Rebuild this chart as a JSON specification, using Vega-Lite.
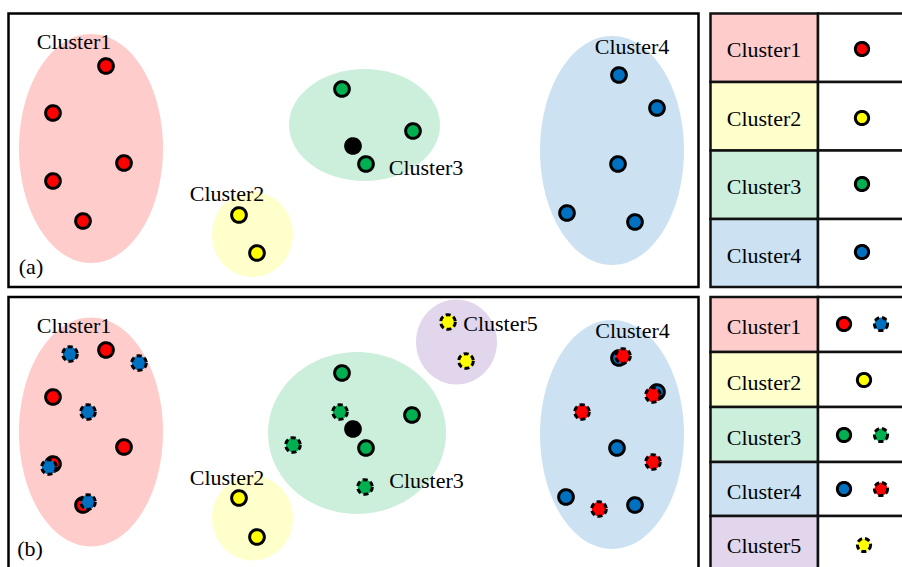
{
  "$schema": "https://vega.github.io/schema/vega-lite/v6.json",
  "width": 902,
  "height": 567,
  "padding": 0,
  "autosize": {"type": "none"},
  "background": "white",
  "config": {"view": {"stroke": null}},
  "resolve": {"scale": {"fill": "independent", "shape": "independent", "size": "independent"}},
  "datasets": {
    "regions": [
      {"panel": "a", "cluster": "Cluster1", "outline": "tall", "cx": 91, "cy": 148.5},
      {"panel": "a", "cluster": "Cluster2", "outline": "round", "cx": 252.5, "cy": 234.5},
      {"panel": "a", "cluster": "Cluster3", "outline": "wide", "cx": 364.5, "cy": 125},
      {"panel": "a", "cluster": "Cluster4", "outline": "tall", "cx": 612, "cy": 150.5},
      {"panel": "b", "cluster": "Cluster1", "outline": "tall", "cx": 91, "cy": 432},
      {"panel": "b", "cluster": "Cluster2", "outline": "round", "cx": 252.5, "cy": 518},
      {"panel": "b", "cluster": "Cluster3", "outline": "large", "cx": 357, "cy": 433},
      {"panel": "b", "cluster": "Cluster5", "outline": "round", "cx": 456.5, "cy": 342},
      {"panel": "b", "cluster": "Cluster4", "outline": "tall", "cx": 612, "cy": 434.5}
    ],
    "frames": [
      {"panel": "a", "x1": 8.5, "y1": 13.5, "x2": 698.5, "y2": 287},
      {"panel": "b", "x1": 8.5, "y1": 297, "x2": 698.5, "y2": 600}
    ],
    "cells": [
      {"panel": "a", "cell": "Cluster1", "x1": 710.5, "x2": 818, "y1": 13.5, "y2": 82},
      {"panel": "a", "cell": "Cluster2", "x1": 710.5, "x2": 818, "y1": 82, "y2": 150.5},
      {"panel": "a", "cell": "Cluster3", "x1": 710.5, "x2": 818, "y1": 150.5, "y2": 219},
      {"panel": "a", "cell": "Cluster4", "x1": 710.5, "x2": 818, "y1": 219, "y2": 287},
      {"panel": "a", "cell": "none", "x1": 818, "x2": 940, "y1": 13.5, "y2": 82},
      {"panel": "a", "cell": "none", "x1": 818, "x2": 940, "y1": 82, "y2": 150.5},
      {"panel": "a", "cell": "none", "x1": 818, "x2": 940, "y1": 150.5, "y2": 219},
      {"panel": "a", "cell": "none", "x1": 818, "x2": 940, "y1": 219, "y2": 287},
      {"panel": "b", "cell": "Cluster1", "x1": 710.5, "x2": 818, "y1": 297, "y2": 352},
      {"panel": "b", "cell": "Cluster2", "x1": 710.5, "x2": 818, "y1": 352, "y2": 407},
      {"panel": "b", "cell": "Cluster3", "x1": 710.5, "x2": 818, "y1": 407, "y2": 462},
      {"panel": "b", "cell": "Cluster4", "x1": 710.5, "x2": 818, "y1": 462, "y2": 516},
      {"panel": "b", "cell": "Cluster5", "x1": 710.5, "x2": 818, "y1": 516, "y2": 600},
      {"panel": "b", "cell": "none", "x1": 818, "x2": 940, "y1": 297, "y2": 352},
      {"panel": "b", "cell": "none", "x1": 818, "x2": 940, "y1": 352, "y2": 407},
      {"panel": "b", "cell": "none", "x1": 818, "x2": 940, "y1": 407, "y2": 462},
      {"panel": "b", "cell": "none", "x1": 818, "x2": 940, "y1": 462, "y2": 516},
      {"panel": "b", "cell": "none", "x1": 818, "x2": 940, "y1": 516, "y2": 600}
    ],
    "points": [
      {"role": "plot", "color": "black", "style": "solid", "x": 353, "y": 146},
      {"role": "plot", "color": "red", "style": "solid", "x": 106, "y": 66},
      {"role": "plot", "color": "red", "style": "solid", "x": 53, "y": 113},
      {"role": "plot", "color": "red", "style": "solid", "x": 124, "y": 163},
      {"role": "plot", "color": "red", "style": "solid", "x": 53, "y": 181},
      {"role": "plot", "color": "red", "style": "solid", "x": 83, "y": 221},
      {"role": "plot", "color": "yellow", "style": "solid", "x": 239, "y": 215},
      {"role": "plot", "color": "yellow", "style": "solid", "x": 257, "y": 253},
      {"role": "plot", "color": "green", "style": "solid", "x": 342, "y": 89},
      {"role": "plot", "color": "green", "style": "solid", "x": 413, "y": 131},
      {"role": "plot", "color": "green", "style": "solid", "x": 366, "y": 164},
      {"role": "plot", "color": "blue", "style": "solid", "x": 619, "y": 75},
      {"role": "plot", "color": "blue", "style": "solid", "x": 657, "y": 108},
      {"role": "plot", "color": "blue", "style": "solid", "x": 618, "y": 164},
      {"role": "plot", "color": "blue", "style": "solid", "x": 567, "y": 213},
      {"role": "plot", "color": "blue", "style": "solid", "x": 635, "y": 222},
      {"role": "plot", "color": "black", "style": "solid", "x": 353, "y": 429},
      {"role": "plot", "color": "red", "style": "solid", "x": 106, "y": 350},
      {"role": "plot", "color": "red", "style": "solid", "x": 53, "y": 397},
      {"role": "plot", "color": "red", "style": "solid", "x": 124, "y": 447},
      {"role": "plot", "color": "red", "style": "solid", "x": 53, "y": 464},
      {"role": "plot", "color": "red", "style": "solid", "x": 83, "y": 505},
      {"role": "plot", "color": "yellow", "style": "solid", "x": 239, "y": 498},
      {"role": "plot", "color": "yellow", "style": "solid", "x": 257, "y": 537},
      {"role": "plot", "color": "green", "style": "solid", "x": 342, "y": 373},
      {"role": "plot", "color": "green", "style": "solid", "x": 412, "y": 415},
      {"role": "plot", "color": "green", "style": "solid", "x": 366, "y": 448},
      {"role": "plot", "color": "blue", "style": "solid", "x": 619, "y": 358},
      {"role": "plot", "color": "blue", "style": "solid", "x": 657, "y": 392},
      {"role": "plot", "color": "blue", "style": "solid", "x": 617, "y": 448},
      {"role": "plot", "color": "blue", "style": "solid", "x": 566, "y": 497},
      {"role": "plot", "color": "blue", "style": "solid", "x": 635, "y": 505},
      {"role": "plot", "color": "blue", "style": "dashed", "x": 70, "y": 354},
      {"role": "plot", "color": "blue", "style": "dashed", "x": 139, "y": 363},
      {"role": "plot", "color": "blue", "style": "dashed", "x": 88, "y": 412},
      {"role": "plot", "color": "blue", "style": "dashed", "x": 49, "y": 467},
      {"role": "plot", "color": "blue", "style": "dashed", "x": 88, "y": 502},
      {"role": "plot", "color": "green", "style": "dashed", "x": 340, "y": 412},
      {"role": "plot", "color": "green", "style": "dashed", "x": 293, "y": 445},
      {"role": "plot", "color": "green", "style": "dashed", "x": 365, "y": 487},
      {"role": "plot", "color": "yellow", "style": "dashed", "x": 448, "y": 322},
      {"role": "plot", "color": "yellow", "style": "dashed", "x": 466, "y": 361},
      {"role": "plot", "color": "red", "style": "dashed", "x": 623, "y": 356},
      {"role": "plot", "color": "red", "style": "dashed", "x": 653, "y": 395},
      {"role": "plot", "color": "red", "style": "dashed", "x": 582, "y": 412},
      {"role": "plot", "color": "red", "style": "dashed", "x": 653, "y": 462},
      {"role": "plot", "color": "red", "style": "dashed", "x": 599, "y": 509},
      {"role": "legend", "color": "red", "style": "solid", "x": 862, "y": 49},
      {"role": "legend", "color": "yellow", "style": "solid", "x": 862, "y": 118},
      {"role": "legend", "color": "green", "style": "solid", "x": 862, "y": 184},
      {"role": "legend", "color": "blue", "style": "solid", "x": 862, "y": 252},
      {"role": "legend", "color": "red", "style": "solid", "x": 844, "y": 324},
      {"role": "legend", "color": "blue", "style": "dashed", "x": 881, "y": 324},
      {"role": "legend", "color": "yellow", "style": "solid", "x": 864, "y": 380},
      {"role": "legend", "color": "green", "style": "solid", "x": 844, "y": 435},
      {"role": "legend", "color": "green", "style": "dashed", "x": 881, "y": 435},
      {"role": "legend", "color": "blue", "style": "solid", "x": 844, "y": 489},
      {"role": "legend", "color": "red", "style": "dashed", "x": 881, "y": 489},
      {"role": "legend", "color": "yellow", "style": "dashed", "x": 864, "y": 545}
    ],
    "labels": [
      {"label": "Cluster1", "x": 74, "y": 49},
      {"label": "Cluster2", "x": 227, "y": 201},
      {"label": "Cluster3", "x": 426, "y": 175},
      {"label": "Cluster4", "x": 632, "y": 54},
      {"label": "(a)", "x": 31, "y": 274},
      {"label": "Cluster1", "x": 74, "y": 333},
      {"label": "Cluster2", "x": 227, "y": 485},
      {"label": "Cluster3", "x": 426.5, "y": 488},
      {"label": "Cluster5", "x": 500.5, "y": 331},
      {"label": "Cluster4", "x": 632.5, "y": 338},
      {"label": "(b)", "x": 30, "y": 556},
      {"label": "Cluster1", "x": 764, "y": 57},
      {"label": "Cluster2", "x": 764, "y": 126},
      {"label": "Cluster3", "x": 764, "y": 194},
      {"label": "Cluster4", "x": 764, "y": 263},
      {"label": "Cluster1", "x": 764, "y": 334},
      {"label": "Cluster2", "x": 764, "y": 390},
      {"label": "Cluster3", "x": 764, "y": 445},
      {"label": "Cluster4", "x": 764, "y": 499},
      {"label": "Cluster5", "x": 764, "y": 553}
    ]
  },
  "layer": [
    {
      "data": {"name": "regions"},
      "mark": {"type": "point", "filled": true, "size": 4, "opacity": 1, "strokeWidth": 0},
      "encoding": {
        "x": {"field": "cx", "type": "quantitative", "scale": {"domain": [0, 902], "nice": false, "zero": false}, "axis": null},
        "y": {"field": "cy", "type": "quantitative", "scale": {"domain": [0, 567], "nice": false, "zero": false, "reverse": true}, "axis": null},
        "shape": {"field": "outline", "type": "nominal", "legend": null, "scale": {"domain": ["tall", "round", "wide", "large"], "range": [
          "M -72 0 A 72 114.5 0 1 1 72 0 A 72 114.5 0 1 1 -72 0 Z",
          "M -40.5 0 A 40.5 42.5 0 1 1 40.5 0 A 40.5 42.5 0 1 1 -40.5 0 Z",
          "M -75.5 0 A 75.5 56 0 1 1 75.5 0 A 75.5 56 0 1 1 -75.5 0 Z",
          "M -89 0 A 89 81 0 1 1 89 0 A 89 81 0 1 1 -89 0 Z"
        ]}},
        "fill": {"field": "cluster", "type": "nominal", "legend": null, "scale": {"domain": ["Cluster1", "Cluster2", "Cluster3", "Cluster4", "Cluster5"], "range": ["#FFCCCC", "#FFFFCC", "#CCEFDC", "#CCE2F2", "#E2D6EC"]}}
      }
    },
    {
      "data": {"name": "frames"},
      "mark": {"type": "rect", "fill": null, "filled": false, "stroke": "black", "strokeWidth": 2.5, "clip": true},
      "encoding": {
        "x": {"field": "x1", "type": "quantitative"},
        "x2": {"field": "x2"},
        "y": {"field": "y1", "type": "quantitative"},
        "y2": {"field": "y2"}
      }
    },
    {
      "data": {"name": "cells"},
      "mark": {"type": "rect", "stroke": "#111111", "strokeWidth": 2.5, "clip": true, "opacity": 1},
      "encoding": {
        "x": {"field": "x1", "type": "quantitative"},
        "x2": {"field": "x2"},
        "y": {"field": "y1", "type": "quantitative"},
        "y2": {"field": "y2"},
        "fill": {"field": "cell", "type": "nominal", "legend": null, "scale": {"domain": ["Cluster1", "Cluster2", "Cluster3", "Cluster4", "Cluster5", "none"], "range": ["#FFCCCC", "#FFFFCC", "#CCEFDC", "#CCE2F2", "#E2D6EC", "#FFFFFF"]}}
      }
    },
    {
      "data": {"name": "points"},
      "mark": {"type": "point", "filled": true, "opacity": 1, "stroke": "black", "strokeWidth": 3, "shape": "circle"},
      "encoding": {
        "x": {"field": "x", "type": "quantitative"},
        "y": {"field": "y", "type": "quantitative"},
        "fill": {"field": "color", "type": "nominal", "legend": null, "scale": {"domain": ["red", "yellow", "green", "blue", "black"], "range": ["#FF0000", "#FFFF00", "#00B050", "#0070C0", "#000000"]}},
        "strokeDash": {"field": "style", "type": "nominal", "legend": null, "scale": {"domain": ["solid", "dashed"], "range": [[1, 0], [5, 3]]}},
        "size": {"field": "role", "type": "nominal", "legend": null, "scale": {"domain": ["plot", "legend"], "range": [215, 175]}}
      }
    },
    {
      "data": {"name": "labels"},
      "mark": {"type": "text", "font": "Liberation Serif", "fontSize": 22, "color": "black", "align": "center", "baseline": "alphabetic"},
      "encoding": {
        "x": {"field": "x", "type": "quantitative"},
        "y": {"field": "y", "type": "quantitative"},
        "text": {"field": "label"}
      }
    }
  ]
}
